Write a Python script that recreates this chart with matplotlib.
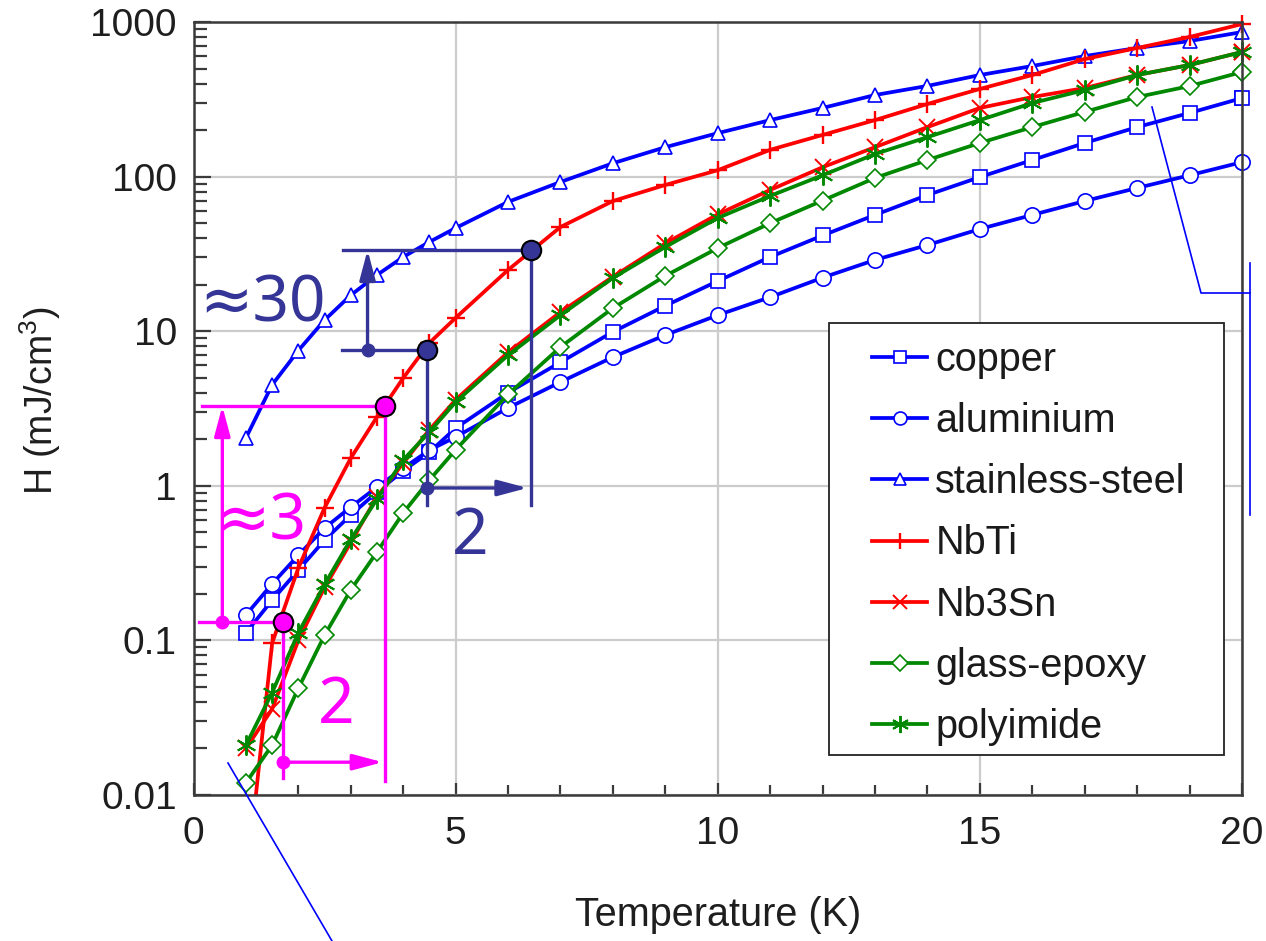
import numpy as np
import matplotlib
matplotlib.use('Agg')
import matplotlib.pyplot as plt
from matplotlib.lines import Line2D
from matplotlib.patches import Rectangle
from matplotlib.ticker import MultipleLocator, LogLocator, NullFormatter

# ---------------- data ----------------
temperature = [1, 1.5, 2, 2.5, 3, 3.5, 4, 4.5, 5, 6, 7, 8, 9, 10, 11, 12, 13, 14, 15, 16, 17, 18, 19, 20]

copper = [0.112, 0.182, 0.285, 0.446, 0.647, 0.912, 1.25, 1.65, 2.36, 4.0, 6.3, 9.9, 14.6, 21.1,
          30.2, 41.6, 56.5, 76, 99.3, 128, 165, 209, 258, 322]
aluminium = [0.146, 0.232, 0.356, 0.533, 0.729, 0.98, 1.3, 1.7, 2.07, 3.19, 4.69, 6.8, 9.44, 12.7,
             16.6, 22.2, 28.9, 36.1, 45.8, 56.5, 69.5, 84.4, 102, 124]
stainless_steel = [2.04, 4.5, 7.5, 11.8, 17.1, 23.1, 30.2, 37.8, 46.5, 68.6, 92.3, 122, 155, 191,
                   232, 278, 337, 386, 454, 519, 602, 679, 753, 861]
nbti = [0.0025, 0.096, 0.294, 0.72, 1.51, 2.79, 4.98, 8.4, 12.2, 24.9, 47.2, 69.5, 88.3, 110,
        149, 186, 232, 295, 369, 454, 576, 679, 800, 970]
nb3sn = [0.02, 0.036, 0.1, 0.22, 0.43, 0.85, 1.4, 2.3, 3.6, 7.3, 13.3, 22.5, 37, 57,
         82, 115, 155, 209, 278, 327, 374, 454, 527, 640]
glass_epoxy = [0.012, 0.021, 0.049, 0.108, 0.212, 0.373, 0.667, 1.09, 1.71, 3.9, 7.9, 14.1, 22.8, 34.5,
               50, 70, 98, 128, 165, 209, 262, 327, 385, 475]
polyimide = [0.021, 0.046, 0.112, 0.23, 0.45, 0.82, 1.47, 2.23, 3.48, 7.0, 12.7, 22.1, 35.1, 54,
             75, 102, 140, 180, 232, 299, 363, 454, 527, 640]

series_names = ['copper', 'aluminium', 'stainless-steel', 'NbTi', 'Nb3Sn', 'glass-epoxy', 'polyimide']
series_values = [copper, aluminium, stainless_steel, nbti, nb3sn, glass_epoxy, polyimide]

x_ticks = [0, 5, 10, 15, 20]
x_tick_labels = ['0', '5', '10', '15', '20']
y_ticks = [0.01, 0.1, 1, 10, 100, 1000]
y_tick_labels = ['0.01', '0.1', '1', '10', '100', '1000']

# annotation points (T, H) on the NbTi curve
magenta_low = (1.70, 0.1315)
magenta_high = (3.66, 3.28)
navy_low = (4.45, 7.55)
navy_high = (6.43, 33.5)

# ---------------- style ----------------
BLUE = '#0000ff'
RED = '#ff0000'
GREEN = '#008800'
MAGENTA = '#ff00ff'
NAVY = '#353597'

styles = [
    dict(color=BLUE, marker='s', ms=10),
    dict(color=BLUE, marker='o', ms=11),
    dict(color=BLUE, marker='^', ms=10.5),
    dict(color=RED, marker='+', ms=13.5, mew=1.7),
    dict(color=RED, marker='x', ms=11.5, mew=1.4),
    dict(color=GREEN, marker='D', ms=9),
    dict(color=GREEN, marker=(6, 2, 0), ms=14.5, mew=1.4),
]

plt.rcParams['font.family'] = ['Liberation Sans', 'DejaVu Sans']
plt.rcParams['mathtext.default'] = 'regular'

W, H = 1266, 941
fig = plt.figure(figsize=(W / 100, H / 100), dpi=100)
fig.patch.set_facecolor('white')

def fx(px):
    return px / W

def fy(py):
    return 1 - py / H

ax = fig.add_axes([fx(193.5), fy(795), fx(1242) - fx(193.5), fy(22) - fy(795)])
ax.set_yscale('log')
ax.set_xlim(0, 20)
ax.set_ylim(0.01, 1000)

ax.grid(True, which='major', color='#cccccc', lw=1.6, zorder=0)
ax.set_axisbelow(True)

handles = []
for name, vals, st in zip(series_names, series_values, styles):
    mew = st.get('mew', 1.2)
    ln, = ax.plot(temperature, vals, color=st['color'], lw=2.7, marker=st['marker'],
                  ms=st['ms'], mfc='white', mec=st['color'], mew=mew, label=name, zorder=3)
    # last marker sits on the right frame: draw it unclipped
    ax.plot(temperature[-1:], vals[-1:], ls='none', marker=st['marker'], ms=st['ms'],
            mfc='white', mec=st['color'], mew=mew, clip_on=False, zorder=3)
    handles.append(ln)

for sp in ax.spines.values():
    sp.set_color('#3a3a3a')
    sp.set_linewidth(1.8)
    sp.set_zorder(4)

ax.set_xticks(x_ticks)
ax.set_xticklabels(x_tick_labels)
ax.xaxis.set_minor_locator(MultipleLocator(1))
ax.set_yticks(y_ticks)
ax.set_yticklabels(y_tick_labels)
ax.yaxis.set_minor_locator(LogLocator(base=10, subs=np.arange(2, 10)))
ax.yaxis.set_minor_formatter(NullFormatter())

ax.tick_params(axis='both', which='both', direction='in', top=False, right=False,
               width=1.6, color='#3a3a3a', labelsize=28, labelcolor='#1e1e1e')
ax.tick_params(axis='y', which='major', length=12, pad=12)
ax.tick_params(axis='y', which='minor', length=9)
ax.tick_params(axis='x', which='major', length=9, pad=15)
ax.tick_params(axis='x', which='minor', length=7)

ax.set_xlabel('Temperature (K)', fontsize=28.5, color='#1e1e1e')
ax.xaxis.set_label_coords(0.5, (795 - 915) / 773, transform=ax.transAxes)
ax.xaxis.label.set_va('center')
ax.set_ylabel('H (mJ/cm$^3$)', fontsize=27, color='#1e1e1e', va='center')
ax.yaxis.set_label_coords((40 - 193) / 1049, (795 - 401) / 773)

# ---------------- annotations ----------------
LW = 2.4
def arrow(p0, p1, color):
    ax.annotate('', xy=p1, xytext=p0,
                arrowprops=dict(arrowstyle='-|>,head_length=0.6,head_width=0.16', color=color,
                                lw=LW, shrinkA=0, shrinkB=0, mutation_scale=30),
                zorder=6, annotation_clip=False)

# magenta
mx0, my0 = magenta_low
mx1, my1 = magenta_high
ax.plot([0.17, mx1], [my1, my1], color=MAGENTA, lw=LW, zorder=6, clip_on=False)
ax.plot([0.11, mx0], [my0, my0], color=MAGENTA, lw=LW, zorder=6, clip_on=False)
arrow((0.55, my0), (0.55, my1), MAGENTA)
ax.plot([0.55], [my0], 'o', color=MAGENTA, ms=9, zorder=7)
ax.plot([mx0, mx0], [my0, 0.0129], color=MAGENTA, lw=LW, zorder=6)
ax.plot([mx1, mx1], [my1, 0.0124], color=MAGENTA, lw=LW, zorder=6)
arrow((mx0, 0.0163), (3.61, 0.0163), MAGENTA)
ax.plot([mx0], [0.0163], 'o', color=MAGENTA, ms=9, zorder=7)
ax.plot([mx0, mx1], [my0, my1], ls='none', marker='o', ms=14, mfc=MAGENTA, mec='black',
        mew=1.5, zorder=8)
ax.text(1.30, 0.583, '≈3', color=MAGENTA, fontsize=46, ha='center', va='center',
        family=['Noto Sans', 'DejaVu Sans'], zorder=7)
ax.text(2.73, 0.0377, '2', color=MAGENTA, fontsize=46, ha='center', va='center',
        family=['Noto Sans', 'DejaVu Sans'], zorder=7)

# navy
nx0, ny0 = navy_low
nx1, ny1 = navy_high
ax.plot([2.86, nx1], [ny1, ny1], color=NAVY, lw=LW, zorder=6)
ax.plot([2.84, nx0], [ny0, ny0], color=NAVY, lw=LW, zorder=6)
arrow((3.32, ny0), (3.32, ny1), NAVY)
ax.plot([3.32], [ny0], 'o', color=NAVY, ms=9, zorder=7)
ax.plot([nx0, nx0], [ny0, 0.751], color=NAVY, lw=LW, zorder=6)
ax.plot([nx1, nx1], [ny1, 0.751], color=NAVY, lw=LW, zorder=6)
arrow((nx0, 0.968), (6.37, 0.968), NAVY)
ax.plot([nx0], [0.968], 'o', color=NAVY, ms=9, zorder=7)
ax.plot([nx0, nx1], [ny0, ny1], ls='none', marker='o', ms=14, mfc=NAVY, mec='black',
        mew=1.5, zorder=8)
ax.text(1.32, 14.8, '≈30', color=NAVY, fontsize=46, ha='center', va='center',
        family=['Noto Sans', 'DejaVu Sans'], zorder=7)
ax.text(5.27, 0.467, '2', color=NAVY, fontsize=46, ha='center', va='center',
        family=['Noto Sans', 'DejaVu Sans'], zorder=7)

# ---------------- legend ----------------
box = Rectangle((fx(829), fy(755)), fx(1224) - fx(829), fy(323) - fy(755), transform=fig.transFigure,
                facecolor='white', edgecolor='#222222', lw=1.3, zorder=9, clip_on=False)
ax.add_patch(box)
leg = ax.legend(handles=handles, loc='upper left', bbox_to_anchor=(fx(872), fy(341)),
                bbox_transform=fig.transFigure, frameon=False, fontsize=28.5,
                borderpad=0, borderaxespad=0, labelspacing=0.585, handlelength=1.4,
                handletextpad=0.2, markerscale=0.85)
leg.set_zorder(10)
for t in leg.get_texts():
    t.set_color('#1a1a1a')

# ---------------- outside guide lines (figure level) ----------------
fig.add_artist(Line2D([fx(228), fx(332)], [fy(763), fy(941)], color=BLUE, lw=1.2))
fig.add_artist(Line2D([fx(1152), fx(1201), fx(1250)], [fy(107), fy(293), fy(293)], color=BLUE, lw=1.2))
fig.add_artist(Line2D([fx(1250), fx(1250)], [fy(263), fy(515)], color=BLUE, lw=1.2))

fig.savefig('out.png', dpi=100, facecolor='white')
